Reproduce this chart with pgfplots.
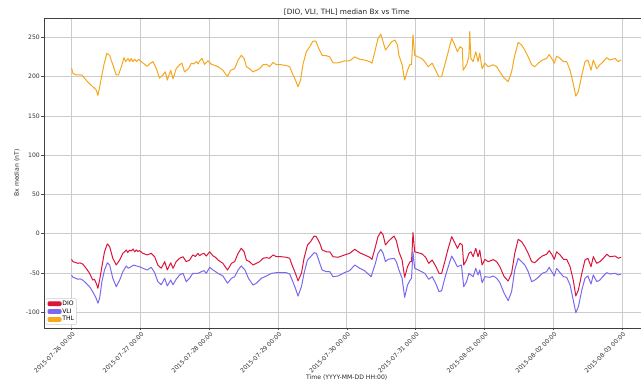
\documentclass[border=0pt]{standalone}
\usepackage{pgfplots}
\pgfplotsset{compat=1.18}
\usepackage{pgfplotstable}
\usepackage{fontspec}
\setmainfont{DejaVu Sans}

\definecolor{dio}{RGB}{220,20,60}
\definecolor{vli}{RGB}{123,104,238}
\definecolor{thl}{RGB}{245,168,28}

% hours since 2015-07-26 00:00, median Bx in nT
\pgfplotstableread{
h v
0 -32.6
0.5 -35.6
1.3 -36.5
2.2 -37.7
3.0 -37.2
3.9 -38.6
5.1 -44
6.3 -50.4
7.4 -59
8.0 -58
8.6 -63
9.2 -69.5
9.8 -59
10.6 -42
11.5 -23
12.5 -13
13.3 -16.5
14.4 -31.3
15.6 -39.8
16.8 -33.5
17.9 -25
18.5 -23
19.1 -20.7
19.6 -24
20.2 -21
20.8 -22
21.5 -19.5
22.0 -23
22.6 -20.7
23.1 -22.5
23.7 -21.6
24.9 -25
26.4 -27
27.8 -25
29 -29.3
30.1 -39.8
31.3 -44
32.5 -35.6
33.4 -46.2
34.6 -37
35.4 -44
36.5 -35.6
37.7 -31.3
38.9 -29.3
40 -35.6
41.2 -33.5
42.3 -27
43.2 -29
44.1 -25
44.7 -28
45.3 -26.2
46.2 -25
47 -28.4
48.2 -23
49.3 -28
50.2 -30
51.1 -33.5
52.8 -37.7
54.4 -46.2
55.8 -37.7
56.9 -35.6
58.1 -25
59.2 -18.6
60.2 -23
61 -33.5
62.1 -35.6
63.3 -39.8
64.5 -37.7
65.6 -35.6
66.8 -31.3
68 -30.5
69.1 -31.3
70.3 -27
71.5 -29.3
73.2 -29.3
74.9 -30
76.1 -31.3
76.9 -39.8
78.1 -50.4
79 -60
80.2 -50.4
81.1 -31.3
82.3 -14.4
83.4 -10
84.6 -3
85.4 -3.8
86.6 -12.2
87.4 -20.7
88.9 -23
90.1 -23
91.2 -29.3
93 -30
95.3 -27
97 -25
98.8 -19.9
100.5 -24.2
102.2 -27
104 -30
104.8 -32.6
106 -16.5
106.9 -3.8
107.9 2.5
108.7 -1.7
109.5 -14.4
110.4 -10.2
111.6 -5.9
112.5 -2.9
113.3 -8.9
114.2 -23
115.3 -33.5
116.2 -55.5
117.2 -42
118.1 -35.6
118.6 -35.6
119.1 1.3
119.7 -23
120.9 -24.2
122.3 -25.8
123.5 -30
124.6 -37.7
125.8 -33.5
127 -41
128.2 -50.4
129.1 -50.4
130.2 -35.6
131.4 -18.6
132.6 -3.8
133.7 -11.5
134.6 -18.6
135.5 -12.2
136.3 -14.4
136.8 -39.8
137.8 -33.5
138.6 -25
139.3 -23
140.1 -29.3
141 -18.6
141.8 -29.3
142.4 -21
143.2 -39.8
144.2 -32.6
145.3 -35.6
147.1 -33
148.3 -35.6
149.4 -42
150.9 -54.7
152.3 -60.2
153.5 -50.4
154.6 -25
155.8 -7.1
157 -10.2
158.1 -16.5
159.3 -25
160.5 -35.6
161.6 -36.9
162.8 -32.6
164.2 -28.4
165.7 -26.2
166.6 -21.6
167.5 -26.2
168.4 -32.6
169.2 -23
170.4 -27
171.6 -32.6
172.7 -32.6
173.9 -42
175 -59
175.9 -79.3
176.8 -71.6
178 -50.4
179.1 -33.5
180.1 -31.3
181.2 -42
182 -29.3
183.2 -37.7
184.3 -35.6
185.5 -31.3
186.7 -26.2
187.8 -29.3
189.6 -28.4
190.7 -31.3
191.7 -30
}\dio

\pgfplotstableread{
h v
0 -52.5
0.5 -55.5
1.3 -56.5
2.2 -58
3.0 -57.5
3.9 -59
5.1 -63
6.3 -67.4
7.4 -73.8
8.6 -82.2
9.2 -88.5
9.8 -82.2
10.6 -61
11.5 -46.2
12.5 -37
13.3 -39.8
14.4 -56.7
15.6 -67.4
16.8 -59
17.9 -48.4
19.1 -41
19.8 -44
20.8 -42
21.6 -40
22.6 -41
23.7 -42
24.9 -44
26.4 -46.2
27.8 -42.7
29 -49.6
30.1 -61
31.3 -65
32.5 -56.7
33.4 -66.5
34.6 -59
35.4 -65
36.5 -58
37.7 -52.5
38.9 -50.4
40 -61
41.2 -56.7
42.3 -50.4
44.1 -50.4
45.3 -48.4
46.2 -47
47 -50.4
48.2 -42.7
49.3 -46
51.1 -50.4
52.8 -53.8
54.4 -63
55.8 -56.7
56.9 -54.7
58.1 -46.2
59.2 -41
60.5 -46.2
61.7 -56.7
63.3 -65.3
64.5 -63
66.2 -56.7
68 -53.8
69.8 -50.4
71.5 -49.6
74.9 -49.6
76.1 -51.3
77.2 -61
78.1 -69.5
79 -79.3
80.2 -67.4
81.1 -50.4
82.3 -33.5
83.4 -29.3
84.6 -24.2
85.4 -25
86.6 -37.7
87.4 -46.2
88.9 -48.4
90.1 -48.4
91.2 -54.7
93 -53.8
95.3 -49.4
97 -47
98.8 -39.8
100.5 -44
102.2 -47
104.5 -54.7
106 -37.7
106.9 -25
107.9 -19.9
108.7 -25
109.5 -35.6
110.4 -32.6
112.5 -31.3
113.3 -35.6
114.2 -46.2
115.3 -56.7
116.2 -81
117.2 -65.3
118.1 -59
118.6 -56.7
119.1 -23
119.7 -44
120.9 -46.2
123.2 -50.4
124.6 -58
125.8 -54.7
127 -63
128.2 -73.8
129.1 -72.5
130.2 -56.7
131.4 -42
132.6 -28.4
133.7 -35.6
134.6 -42
136 -39.8
136.8 -67.4
137.8 -61
138.6 -50.4
140.1 -54.7
141 -44
141.8 -52.5
142.4 -46.2
143.2 -62.3
144.2 -54.7
145.9 -55.5
147.1 -53.8
148.3 -56.7
149.4 -62.3
150.9 -75.8
152.3 -85.2
153.5 -73.8
154.6 -46.2
155.8 -31.3
157 -35.6
158.1 -39.8
159.3 -48.4
160.5 -61
161.6 -59
162.8 -55.5
164.2 -50.4
165.7 -48.4
166.6 -42.7
167.5 -48.4
168.4 -53.8
169.2 -44
170.4 -49.6
171.6 -54.7
172.7 -55.5
173.9 -65.3
175 -84.4
175.9 -100.5
176.8 -92.9
178 -71.6
179.1 -56.7
180.1 -53.8
181.2 -64
182 -52.5
183.2 -61
184.3 -59
185.5 -53.8
186.7 -49.6
187.8 -51.3
189.6 -50.4
190.7 -52.5
191.7 -51.3
}\vli

\pgfplotstableread{
h v
0 211
0.5 204
1.6 202
3.6 202
4.5 198
5.7 193
7.4 187
8.6 183
9.2 176
9.5 181
10.4 198
11.3 215
12.3 229.5
13.3 227
14.4 215
15.6 202
16.4 202
17.6 215
18.3 224
18.9 219
19.7 223
20.3 219
20.8 223
21.4 219
22 222
22.7 219
23.4 222
24.3 219
25.5 215.5
26.3 213
27.2 216
28.4 219
29.6 210
30.7 198
31.9 202
32.7 206
33.4 195.5
34.6 208
35.4 197
36.5 210
37.7 215
38.5 217
39.4 206
40.8 210
41.8 217
42.6 216
43.5 219
44.1 216
44.7 220
45.5 223
46.4 215.5
47.6 220
48.8 215.5
49.3 215
51.1 212.5
52.8 208
54.4 200
55.5 208
56.9 210
58.1 221
59.2 227
60.2 223
61 212.5
62.1 210
63.3 206
64.5 208
65.6 210
66.8 215
68 215.5
69.1 212.5
70.3 218
71.5 215
73.2 215
74.9 214
76.1 212.5
77 204
78.1 195.5
79 187
79.9 195.5
80.7 215
81.9 231.5
83.1 238
84.2 245
85.2 245
86.2 236
87.4 227
88.9 226.5
90.1 225
91.2 217.5
93 217.5
95.3 220
97 220
98.8 225
100.5 222
102.2 221
104 219
104.8 217
105.8 231.5
106.9 248.5
107.9 253.7
108.7 244
109.5 233.7
110.4 238
111.6 244
112.8 246.5
113.7 240
114.2 227
115.3 215
116.2 195.5
117.2 208
118 215
118.6 215
119.1 253
119.7 227
120.9 225
122.1 223
123.2 219
124.4 212.5
125.8 217
127 208
128.1 200
129.1 200
130.2 215
131.4 231.5
132.6 248.5
133.7 240
134.6 231.5
135.5 238
136.3 236
136.6 208
137.8 215
138.6 225
138.9 257
139.3 223
140.1 219
141 231.5
141.8 219
142.4 229.5
143.2 210
144.2 217
145.3 212.5
147.1 215
148.3 212.5
149.4 206
150.9 198
152.3 193.5
153.5 206
154.6 227
155.8 243.5
157 240
158.1 233.7
159.3 225
160.5 215
161.6 212.5
162.8 217
164.2 221
165.7 223
166.6 228
167.5 223
168.4 217
169.2 226
170.4 223
171.6 219
172.7 219
173.9 208
175 191
175.9 175
176.8 181
178 202
179.1 219
180.1 221
181.2 208
182 221
183.2 210
184.3 215
185.5 219
186.7 224
187.8 221
189.6 223
190.7 219
191.7 221
}\thl

\begin{document}
\begin{tikzpicture}
\path[use as bounding box] (-44pt,-59pt) rectangle (597pt,328pt);
\clip (-44pt,-59pt) rectangle (597pt,328pt);
\begin{axis}[
  at={(0pt,0pt)}, anchor=south west,
  scale only axis, width=605.5pt, height=310pt,
  xmin=-9.6, xmax=201.6, ymin=-120, ymax=274.5,
  xtick={0,24,...,192},
  xticklabels={2015-07-26 00:00,2015-07-27 00:00,2015-07-28 00:00,2015-07-29 00:00,2015-07-30 00:00,2015-07-31 00:00,2015-08-01 00:00,2015-08-02 00:00,2015-08-03 00:00},
  ytick={-100,-50,0,50,100,150,200,250},
  /pgf/number format/assume math mode=true,
  tick pos=left, tick align=outside, major tick length=2.5pt,
  tick style={black!70, line width=0.5pt},
  axis line style={black!75, line width=0.6pt},
  grid=major, major grid style={black!20, line width=0.6pt},
  every tick label/.append style={font=\fontsize{6.1}{7.3}\selectfont, text=black!80},
  xticklabel style={rotate=45, anchor=north east, inner sep=1pt, xshift=1pt},
  yticklabel style={inner sep=1.5pt},
  title={[DIO, VLI, THL] median Bx vs Time},
  title style={font=\fontsize{7.3}{8.5}\selectfont, text=black!85, at={(axis description cs:0.5,1)}, anchor=south, inner sep=0pt, yshift=-3.5pt},
  xlabel={Time (YYYY-MM-DD HH:00)},
  xlabel style={font=\fontsize{6.1}{7.3}\selectfont, text=black!85, at={(axis description cs:0.5,-0.161)}, anchor=center},
  ylabel={Bx median (nT)},
  ylabel style={font=\fontsize{6.1}{7.3}\selectfont, text=black!85, at={(axis description cs:-0.0446,0.5)}, anchor=center},
  legend style={at={(axis description cs:0.003,0.01)}, anchor=south west,
    font=\fontsize{6.1}{7.3}\selectfont, draw=black!20, fill=white, rounded corners=1pt,
    inner sep=1.5pt, row sep=0.3pt, nodes={inner sep=0.8pt}},
  legend cell align=left,
  line join=round,
]
\addplot[dio, line width=1pt, legend image code/.code={\fill[dio] (0pt,-1.9pt) rectangle (13pt,1.9pt);}] table[x=h, y=v] {\dio};
\addlegendentry{DIO}
\addplot[vli, line width=1pt, legend image code/.code={\fill[vli] (0pt,-1.9pt) rectangle (13pt,1.9pt);}] table[x=h, y=v] {\vli};
\addlegendentry{VLI}
\addplot[thl, line width=1pt, legend image code/.code={\fill[thl] (0pt,-1.9pt) rectangle (13pt,1.9pt);}] table[x=h, y=v] {\thl};
\addlegendentry{THL}
\end{axis}
\end{tikzpicture}
\end{document}
